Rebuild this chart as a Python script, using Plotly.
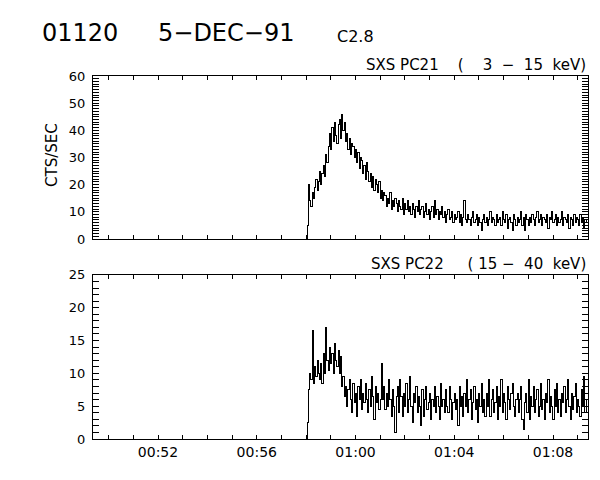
import pandas as pd
import numpy as np
import plotly.graph_objects as go

# ---- data ----
start_time = "1991-12-05 00:58:01"
step_seconds = 3

pc21_counts = [0,
    5, 20, 14, 12, 17, 15, 19,
    22, 18, 21, 25, 20, 24, 27,
    23, 31, 28, 34, 39, 33,
    41, 36, 43, 38, 35, 42, 44, 37, 46, 40,
    43, 36, 39, 33, 37, 31, 35, 34, 30, 33,
    28, 32, 26, 30, 29, 24, 27, 22, 28, 25,
    21, 24, 19, 23, 18, 22, 20, 17, 21, 15,
    18, 14, 17, 16, 12, 15, 13, 17, 11, 14,
    12, 15, 13, 10, 14, 12, 11, 15, 9, 13,
    11, 14, 10, 12, 9, 13, 11, 8, 12, 10,
    14, 9, 11, 12, 8, 10, 13, 9, 11, 7,
    10, 12, 8, 14, 9, 11, 7, 10, 9, 12,
    8, 10, 6, 9, 11, 7, 8, 10, 6, 9,
    7, 8, 10, 6, 9, 5, 8, 14, 7, 6,
    9, 7, 5, 8, 10, 6, 7, 9, 5, 8,
    6, 3, 7, 9, 6, 8, 5, 7, 10, 6,
    8, 7, 5, 9, 6, 7, 8, 5, 10, 7,
    6, 9, 4, 7, 8, 6, 3, 9, 7, 5,
    8, 6, 7, 10, 5, 8, 3, 9, 7, 5,
    8, 6, 9, 7, 5, 8, 10, 6, 7, 9,
    5, 8, 7, 6, 9, 4, 8, 7, 10, 6,
    7, 9, 5, 8, 6, 7, 10, 5, 8, 7,
    6, 9, 4, 8, 7, 5, 9, 6, 8, 7,
    5, 9, 6, 8, 4, 7, 6]

pc22_counts = [0,
    2.5, 7.5, 10, 9, 16.5, 8.5, 11, 9.5, 12, 10,
    9, 11.5, 8.5, 13, 10, 17, 12, 10.5, 14, 11.5,
    13, 10, 14.5, 12, 11, 13.5, 10, 12.5, 8, 9.5,
    6.5, 8, 5, 7.5, 9, 6, 4, 8.5, 5.5, 7,
    3.5, 8, 6, 9, 4.5, 7, 5.5, 8.5, 6, 4,
    7.5, 5, 9.5, 6.5, 3, 8, 5.5, 7, 4.5, 6,
    11.5, 6, 8, 4.5, 7, 5, 9, 6, 3.5, 7.5,
    5, 1, 6.5, 8, 4, 9, 6.5, 3.5, 7, 5,
    8.5, 4, 6, 9.5, 5, 2.5, 7, 5.5, 8, 4,
    6.5, 5, 2, 7.5, 3.5, 6, 8, 4.5, 5.5, 7,
    3, 6, 5, 8, 4, 6.5, 5, 3, 8.5, 5,
    6, 4, 7.5, 5, 4, 8, 6, 3, 5.5, 7,
    4.5, 6, 2, 8, 5, 6.5, 3.5, 7, 5, 9,
    4, 6, 7.5, 3, 5.5, 8, 4.5, 6, 2.5, 7,
    5, 8.5, 4, 6, 3.5, 7, 5, 9, 3.5, 6,
    7.5, 4, 5.5, 8, 3, 6.5, 5, 9, 4, 7,
    5.5, 3, 8, 6, 4.5, 7, 8.5, 5, 3.5, 6,
    7, 4, 6, 8, 3, 1.5, 5.5, 7, 4, 9,
    3, 6.5, 5, 8, 4, 6, 7.5, 3.5, 5, 8.5,
    4.5, 6, 3, 7, 5.5, 9, 4, 6.5, 5, 3,
    7.5, 5, 8.5, 4, 6, 3.5, 7, 5.5, 8, 4,
    6, 9, 5, 3, 7, 4.5, 6.5, 8.5, 4, 6,
    5, 3.5, 7.5, 5, 9.5, 4, 6]

x_range = ["1991-12-05 00:49:22", "1991-12-05 01:09:25"]
# one tick per minute, labelled every fourth minute
x_tick_minutes = ["00:50", "00:51", "00:52", "00:53", "00:54", "00:55", "00:56", "00:57",
                  "00:58", "00:59", "01:00", "01:01", "01:02", "01:03", "01:04", "01:05",
                  "01:06", "01:07", "01:08", "01:09"]
x_tick_labels = ["", "", "00:52", "", "", "", "00:56", "",
                 "", "", "01:00", "", "", "", "01:04", "",
                 "", "", "01:08", ""]
top_y_range = [0, 60]
top_y_major = 10
bot_y_range = [0, 25]
bot_y_major = 5
NB = "\u00a0"
top_label = "SXS" + NB + "PC21" + NB * 4 + "(" + NB * 4 + "3" + NB * 2 + "\u2212" + NB * 2 + "15" + NB * 2 + "keV)"
bot_label = "SXS" + NB + "PC22" + NB * 5 + "(" + NB + "15" + NB + "\u2212" + NB * 2 + "40" + NB * 2 + "keV)"
title_id = "01120"
title_date = "5\u2212DEC\u221291"
title_class = "C2.8"
y_title = "CTS/SEC"

times = pd.to_datetime(start_time) + pd.to_timedelta(np.arange(len(pc21_counts)) * step_seconds, unit="s")
x_tick_vals = ["1991-12-05 " + m + ":00" for m in x_tick_minutes]

FONT = "DejaVu Sans"
TOP_DOM = [0.551, 1.0]
BOT_DOM = [0.0, 0.452]

fig = go.Figure()
fig.add_trace(go.Scatter(x=times, y=pc21_counts, mode="lines", xaxis="x", yaxis="y",
                         line=dict(color="black", width=1, shape="hvh"),
                         showlegend=False, hoverinfo="skip"))
fig.add_trace(go.Scatter(x=times, y=pc22_counts, mode="lines", xaxis="x2", yaxis="y2",
                         line=dict(color="black", width=1, shape="hvh"),
                         showlegend=False, hoverinfo="skip"))


def xaxis(anchor, labels):
    d = dict(type="date", range=x_range, tickmode="array", tickvals=x_tick_vals,
             ticktext=x_tick_labels, anchor=anchor,
             domain=[0, 1], ticks="inside", ticklen=4, tickcolor="#000000", tickwidth=1,
             showline=True, linecolor="black", linewidth=1, mirror="allticks",
             showgrid=False, zeroline=False, showticklabels=labels)
    if labels:
        d.update(tickfont=dict(family=FONT, size=14, color="black"))
    return d


def yaxis(anchor, dom, rng, major):
    vals = list(range(rng[0], rng[1] + 1))
    text = [str(v) if v % major == 0 else "" for v in vals]
    return dict(range=rng, tickmode="array", tickvals=vals, ticktext=text,
                anchor=anchor, domain=dom,
                ticks="inside", ticklen=6, tickcolor="#000000", tickwidth=1,
                showline=True, linecolor="black", linewidth=1, mirror="allticks",
                showgrid=False, zeroline=False, ticklabelstandoff=4,
                tickfont=dict(family=FONT, size=13, color="black"))


fig.update_layout(
    template="none",
    width=600, height=480,
    margin=dict(l=93, r=12, t=76, b=41),
    paper_bgcolor="white", plot_bgcolor="white",
    font=dict(family=FONT, color="black"),
    xaxis=xaxis("y", False),
    xaxis2=xaxis("y2", True),
    yaxis=yaxis("x", TOP_DOM, top_y_range, top_y_major),
    yaxis2=yaxis("x2", BOT_DOM, bot_y_range, bot_y_major),
)


def px_x(x):
    return (x - 93) / 495


def px_y(y):
    return 1 - (y - 76) / 363


for text, x, y, size in [(title_id, 40, 33, 24), (title_date, 156, 33, 24), (title_class, 335, 36, 16)]:
    fig.add_annotation(text=text, xref="paper", yref="paper", x=px_x(x), y=px_y(y),
                       xanchor="left", yanchor="middle", showarrow=False,
                       font=dict(family=FONT, size=size, color="black"))

fig.add_annotation(text=top_label, xref="paper", yref="paper", x=1, y=TOP_DOM[1],
                   xanchor="right", yanchor="bottom", showarrow=False,
                   font=dict(family=FONT, size=15, color="black"))
fig.add_annotation(text=bot_label, xref="paper", yref="paper", x=1, y=BOT_DOM[1],
                   xanchor="right", yanchor="bottom", showarrow=False,
                   font=dict(family=FONT, size=15, color="black"))
fig.add_annotation(text=y_title, xref="paper", yref="paper", x=px_x(52), y=px_y(155),
                   textangle=-90, xanchor="center", yanchor="middle",
                   showarrow=False, font=dict(family=FONT, size=15, color="black"))

fig.write_html("out.html", config={"displayModeBar": False},
               post_script="document.body.style.margin='0';document.body.style.overflow='hidden';"
                           "document.querySelectorAll('.scatterlayer path').forEach(function(p){p.style.shapeRendering='crispEdges';});")
